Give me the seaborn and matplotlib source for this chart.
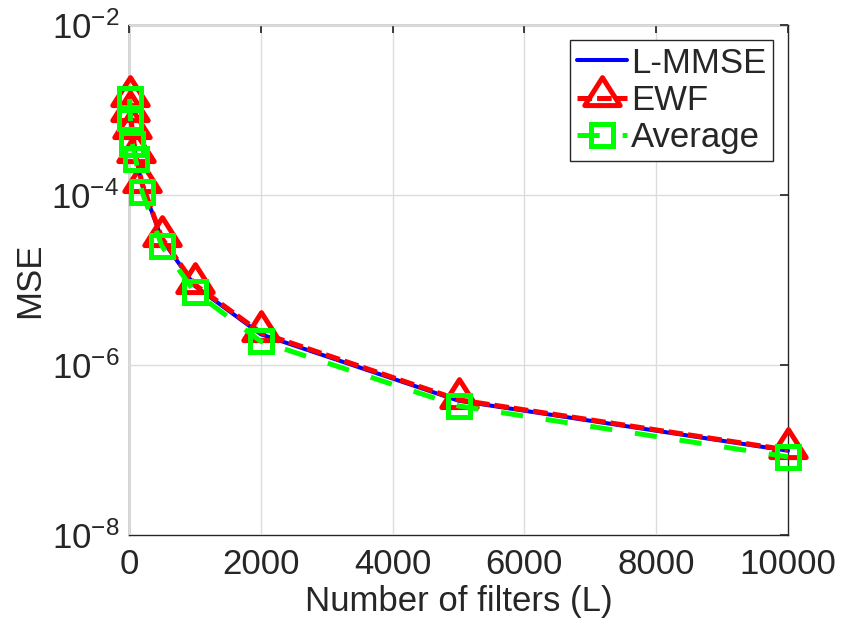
import numpy as np
import pandas as pd
import matplotlib
matplotlib.use("Agg")
import matplotlib.pyplot as plt
from matplotlib.path import Path
from matplotlib.markers import MarkerStyle
import seaborn as sns

# Number of filters
L = [10, 20, 50, 100, 200, 500, 1000, 2000, 5000, 10000]

# Mean squared error for each estimator
mse_lmmse = [1.35e-3, 8.9e-4, 5.6e-4, 2.9e-4, 1.3e-4, 3.0e-5, 8.5e-6, 2.3e-6, 3.8e-7, 9.8e-8]
mse_ewf = [1.4e-3, 9.2e-4, 5.8e-4, 3.0e-4, 1.35e-4, 3.1e-5, 8.8e-6, 2.4e-6, 3.9e-7, 1.0e-7]
mse_avg = [1.35e-3, 8.1e-4, 4.0e-4, 2.65e-4, 1.08e-4, 2.5e-5, 7.2e-6, 1.9e-6, 3.3e-7, 8.3e-8]

series_names = ["L-MMSE", "EWF", "Average"]
x_ticks = [0, 2000, 4000, 6000, 8000, 10000]
y_ticks = [1e-8, 1e-6, 1e-4, 1e-2]

df = pd.DataFrame({
    "L": L * 3,
    "MSE": mse_lmmse + mse_ewf + mse_avg,
    "method": [n for n in series_names for _ in L],
})

FS = 25

sns.set_theme(style="whitegrid")
plt.rcParams.update({
    "font.family": ["Liberation Sans", "DejaVu Sans"],
    "font.size": FS,
    "axes.unicode_minus": False,
    "lines.scale_dashes": False,
    "axes.edgecolor": "#262626",
    "axes.linewidth": 1.0,
    "grid.color": "#dcdcdc",
    "grid.linewidth": 1.0,
    "xtick.direction": "in",
    "ytick.direction": "in",
    "xtick.top": True,
    "ytick.right": True,
    "xtick.color": "#262626",
    "ytick.color": "#262626",
    "xtick.major.size": 6,
    "ytick.major.size": 6,
    "xtick.minor.visible": False,
    "ytick.minor.visible": False,
})

# Triangle with its reference point near the centroid
tri = Path([(0, 1.0), (-0.85, -0.34), (0.85, -0.34), (0, 1.0)],
           [Path.MOVETO, Path.LINETO, Path.LINETO, Path.CLOSEPOLY])
tri_marker = MarkerStyle(tri, joinstyle="miter")
sq_marker = MarkerStyle("s", joinstyle="miter")

fig = plt.figure(figsize=(8.41, 6.25), dpi=100)
ax = fig.add_axes([0.1534, 0.144, 0.7836, 0.816])

styles = {
    "L-MMSE": dict(color="#0000ff", linewidth=2.9, linestyle="-", marker=None),
    "EWF": dict(color="#ff0000", linewidth=3.6, linestyle=(0, (10.5, 3.6)),
                marker=tri_marker, markersize=30, markeredgewidth=3.6,
                markerfacecolor="none", markeredgecolor="#ff0000"),
    "Average": dict(color="#00ff00", linewidth=3.6, linestyle=(0, (16.0, 16.5)),
                    marker=sq_marker, markersize=16.5, markeredgewidth=3.6,
                    markerfacecolor="none", markeredgecolor="#00ff00"),
}

for name in series_names:
    sub = df[df["method"] == name]
    sns.lineplot(data=sub, x="L", y="MSE", ax=ax, label=name, sort=False,
                 estimator=None, errorbar=None, clip_on=False, **styles[name])

ax.set_yscale("log")
ax.set_xlim(0, 10000)
ax.set_ylim(1e-8, 1e-2)
ax.set_xticks(x_ticks)
ax.set_yticks(y_ticks)
ax.yaxis.set_minor_locator(matplotlib.ticker.NullLocator())
ax.tick_params(axis="x", which="major", labelsize=FS, pad=9)
ax.tick_params(axis="y", which="major", labelsize=FS, pad=7)
ax.grid(True, which="major")
ax.set_xlabel("Number of filters (L)", fontsize=FS, labelpad=3)
ax.set_ylabel("MSE", fontsize=FS, labelpad=4)
for s in ax.spines.values():
    s.set_visible(True)
    s.set_color("#262626")
    s.set_zorder(0.5)

leg = ax.legend(loc="upper right", fontsize=FS, frameon=True, fancybox=False,
                framealpha=1, edgecolor="#262626", borderaxespad=0.42,
                handlelength=1.45, handletextpad=0.12, borderpad=0.2,
                labelspacing=0.12)
leg.get_frame().set_linewidth(1.0)

fig.savefig("out.png", dpi=100)
